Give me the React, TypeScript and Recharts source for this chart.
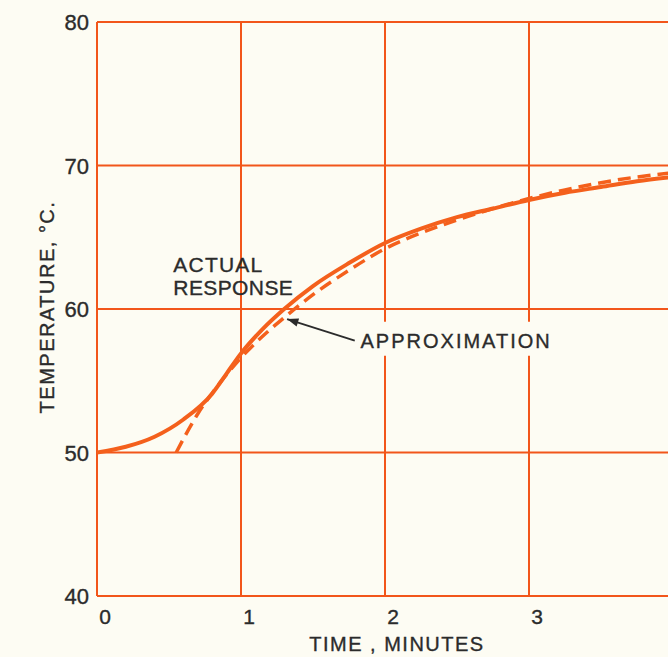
import { LineChart, Line, XAxis, YAxis, CartesianGrid, ReferenceDot, ReferenceLine, Label } from 'recharts';

const ORANGE = '#f2561a';
const CURVE = '#f4601c';
const INK = '#2b2b2b';
const PAPER = '#fdfcf3';
const FONT = '"Liberation Sans", Arial, sans-serif';

const xTicks = [0, 1, 2, 3, 4];
const xTickLabels = ['0', '1', '2', '3', ''];
const yTicks = [40, 50, 60, 70, 80];

// solid curve: actual response
const actualTime = [0, 0.2, 0.4, 0.6, 0.8, 0.9, 1.0, 1.15, 1.3, 1.5, 1.75, 2, 2.25, 2.5, 2.75, 3, 3.25, 3.5, 3.75, 4];
const actualTemp = [50, 50.4, 51.1, 52.3, 54.1, 55.5, 56.9, 58.6, 60.0, 61.6, 63.2, 64.6, 65.6, 66.4, 67.0, 67.6, 68.1, 68.5, 68.9, 69.2];

// dashed curve: approximation
const approxTime = [0.55, 0.7, 0.85, 1.0, 1.15, 1.3, 1.5, 1.75, 2, 2.25, 2.5, 2.75, 3, 3.25, 3.5, 3.75, 4];
const approxTemp = [50, 52.7, 54.8, 56.6, 58.1, 59.4, 61.0, 62.7, 64.2, 65.3, 66.2, 67.0, 67.7, 68.3, 68.8, 69.2, 69.5];

const actualData = actualTime.map((t, i) => ({ t, v: actualTemp[i] }));
const approxData = approxTime.map((t, i) => ({ t, v: approxTemp[i] }));

const textStyle = { fill: INK, stroke: INK, strokeWidth: 0.35, fontFamily: FONT };

const YTick = (props: any) => {
  const { x, y, payload } = props;
  return (
    <text x={x} y={y + 8} textAnchor="end" fontSize={22} {...textStyle}>
      {payload.value}
    </text>
  );
};

const XTick = (props: any) => {
  const { x, y, payload, index } = props;
  return (
    <text x={x + 8} y={y + 20} textAnchor="middle" fontSize={21} {...textStyle}>
      {xTickLabels[index] ?? payload.value}
    </text>
  );
};

const ActualLabel = (props: any) => (
  <g>
    <text x={props.cx} y={props.cy} fontSize={21} letterSpacing={1.2} {...textStyle}>
      ACTUAL
    </text>
    <text x={props.cx} y={props.cy + 23} fontSize={21} letterSpacing={0.4} {...textStyle}>
      RESPONSE
    </text>
  </g>
);

const ApproxLabel = (props: any) => (
  <g>
    <rect x={props.cx - 4} y={props.cy - 26} width={198} height={34} fill={PAPER} />
    <text x={props.cx} y={props.cy} fontSize={20} letterSpacing={2} {...textStyle}>
      APPROXIMATION
    </text>
  </g>
);

const Arrow = (props: any) => {
  const { x1, y1, x2, y2 } = props;
  const ang = Math.atan2(y1 - y2, x1 - x2);
  const len = 12;
  const w = 0.35;
  const p1 = [x1 - len * Math.cos(ang - w), y1 - len * Math.sin(ang - w)];
  const p2 = [x1 - len * Math.cos(ang + w), y1 - len * Math.sin(ang + w)];
  return (
    <g>
      <line x1={x1} y1={y1} x2={x2} y2={y2} stroke={INK} strokeWidth={1.8} />
      <polygon points={`${x1},${y1} ${p1[0]},${p1[1]} ${p2[0]},${p2[1]}`} fill={INK} />
    </g>
  );
};

export default function App() {
  return (
    <div style={{ position: 'absolute', left: 0, top: 0, width: 668, height: 657, overflow: 'hidden', background: PAPER }}>
      <LineChart width={680} height={657} margin={{ top: 22, right: 7, left: 0, bottom: 0 }}>
        <CartesianGrid stroke={ORANGE} strokeWidth={2} />
        <XAxis
          dataKey="t"
          type="number"
          domain={[0, 4]}
          ticks={xTicks}
          height={61}
          axisLine={false}
          tickLine={false}
          tick={<XTick />}
          allowDataOverflow
        >
          <Label
            content={(p: any) => (
              <text
                x={p.viewBox.x + p.viewBox.width / 2 + 12}
                y={p.viewBox.y + 55}
                textAnchor="middle"
                fontSize={20}
                letterSpacing={1.5}
                {...textStyle}
              >
                TIME , MINUTES
              </text>
            )}
          />
        </XAxis>
        <YAxis
          type="number"
          domain={[40, 80]}
          ticks={yTicks}
          width={97}
          axisLine={false}
          tickLine={false}
          tick={<YTick />}
          allowDataOverflow
        >
          <Label
            content={(p: any) => {
              const cx = 47;
              const cy = p.viewBox.y + p.viewBox.height / 2 - 2;
              return (
                <text
                  x={cx}
                  y={cy}
                  transform={`rotate(-90 ${cx} ${cy})`}
                  textAnchor="middle"
                  dominantBaseline="central"
                  fontSize={20}
                  letterSpacing={1.5}
                  {...textStyle}
                >
                  TEMPERATURE, °C.
                </text>
              );
            }}
          />
        </YAxis>
        <Line
          data={approxData}
          dataKey="v"
          type="monotone"
          stroke={CURVE}
          strokeWidth={3.5}
          strokeDasharray="13 7"
          dot={false}
          isAnimationActive={false}
        />
        <Line
          data={actualData}
          dataKey="v"
          type="monotone"
          stroke={CURVE}
          strokeWidth={4}
          dot={false}
          isAnimationActive={false}
        />
        <ReferenceDot x={0.53} y={62.6} r={0} shape={ActualLabel} />
        <ReferenceDot x={1.83} y={57.3} r={0} shape={ApproxLabel} />
        <ReferenceLine segment={[{ x: 1.32, y: 59.3 }, { x: 1.79, y: 57.8 }]} shape={Arrow} />
      </LineChart>
    </div>
  );
}
